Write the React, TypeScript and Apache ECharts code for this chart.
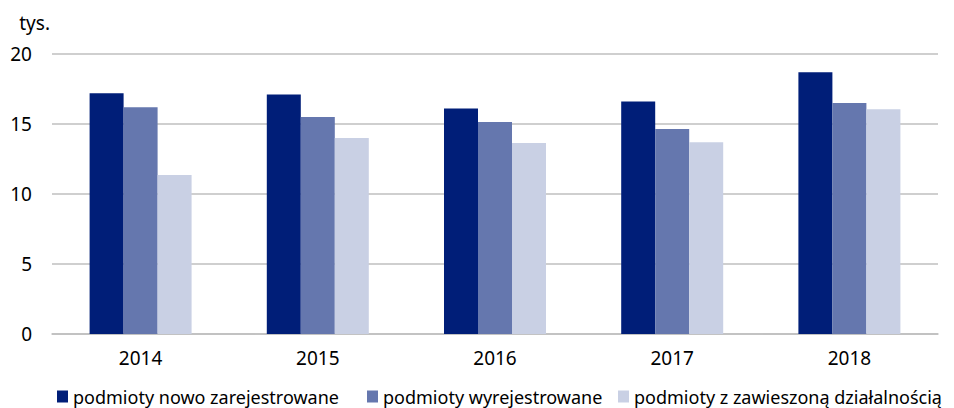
import React, { useEffect, useRef } from "react";
import * as echarts from "echarts";

const categories = ["2014", "2015", "2016", "2017", "2018"];
const seriesNames = [
  "podmioty nowo zarejestrowane",
  "podmioty wyrejestrowane",
  "podmioty z zawieszoną działalnością",
];
const nowoZarejestrowane = [17.2, 17.1, 16.1, 16.6, 18.7];
const wyrejestrowane = [16.2, 15.5, 15.15, 14.65, 16.5];
const zawieszone = [11.35, 14.0, 13.65, 13.7, 16.05];
const colors = ["#001E78", "#6577AE", "#C9D0E4"];
const legendLefts = [57, 367, 618];

const FONT = "'Noto Sans', sans-serif";

export default function App() {
  const ref = useRef<HTMLDivElement>(null);
  useEffect(() => {
    if (!ref.current) return;
    const chart = echarts.init(ref.current, null, { renderer: "svg" });
    const data = [nowoZarejestrowane, wyrejestrowane, zawieszone];
    chart.setOption({
      animation: false,
      textStyle: { fontFamily: FONT },
      grid: { left: 52, right: 16, top: 54, bottom: 74, containLabel: false },
      legend: seriesNames.map((name, i) => ({
        top: 387,
        left: legendLefts[i],
        padding: 0,
        itemWidth: 11,
        itemHeight: 12,
        icon: "rect",
        textStyle: { fontSize: 18, lineHeight: 19, color: "#000", fontFamily: FONT },
        data: [name],
      })),
      xAxis: {
        type: "category",
        data: categories,
        axisTick: { show: false },
        axisLine: { lineStyle: { color: "#BFBFBF", width: 1.5 } },
        axisLabel: { fontSize: 19, color: "#000", margin: 14, fontFamily: FONT },
      },
      yAxis: {
        type: "value",
        min: 0,
        max: 20,
        interval: 5,
        name: "tys.",
        nameLocation: "end",
        nameGap: 22,
        nameTextStyle: { fontSize: 19, color: "#000", align: "right", padding: [0, 2, 0, 0], fontFamily: FONT },
        axisLabel: { fontSize: 19, color: "#000", margin: 20, fontFamily: FONT },
        splitLine: { lineStyle: { color: "#BFBFBF", width: 1.5 } },
        axisLine: { show: false },
        axisTick: { show: false },
      },
      series: seriesNames.map((name, i) => ({
        name,
        type: "bar",
        data: data[i],
        barWidth: 34,
        barGap: "0%",
        itemStyle: { color: colors[i] },
      })),
    });
    return () => chart.dispose();
  }, []);
  return (
    <div
      ref={ref}
      style={{ position: "absolute", left: 0, top: 0, width: 954, height: 408 }}
    />
  );
}
